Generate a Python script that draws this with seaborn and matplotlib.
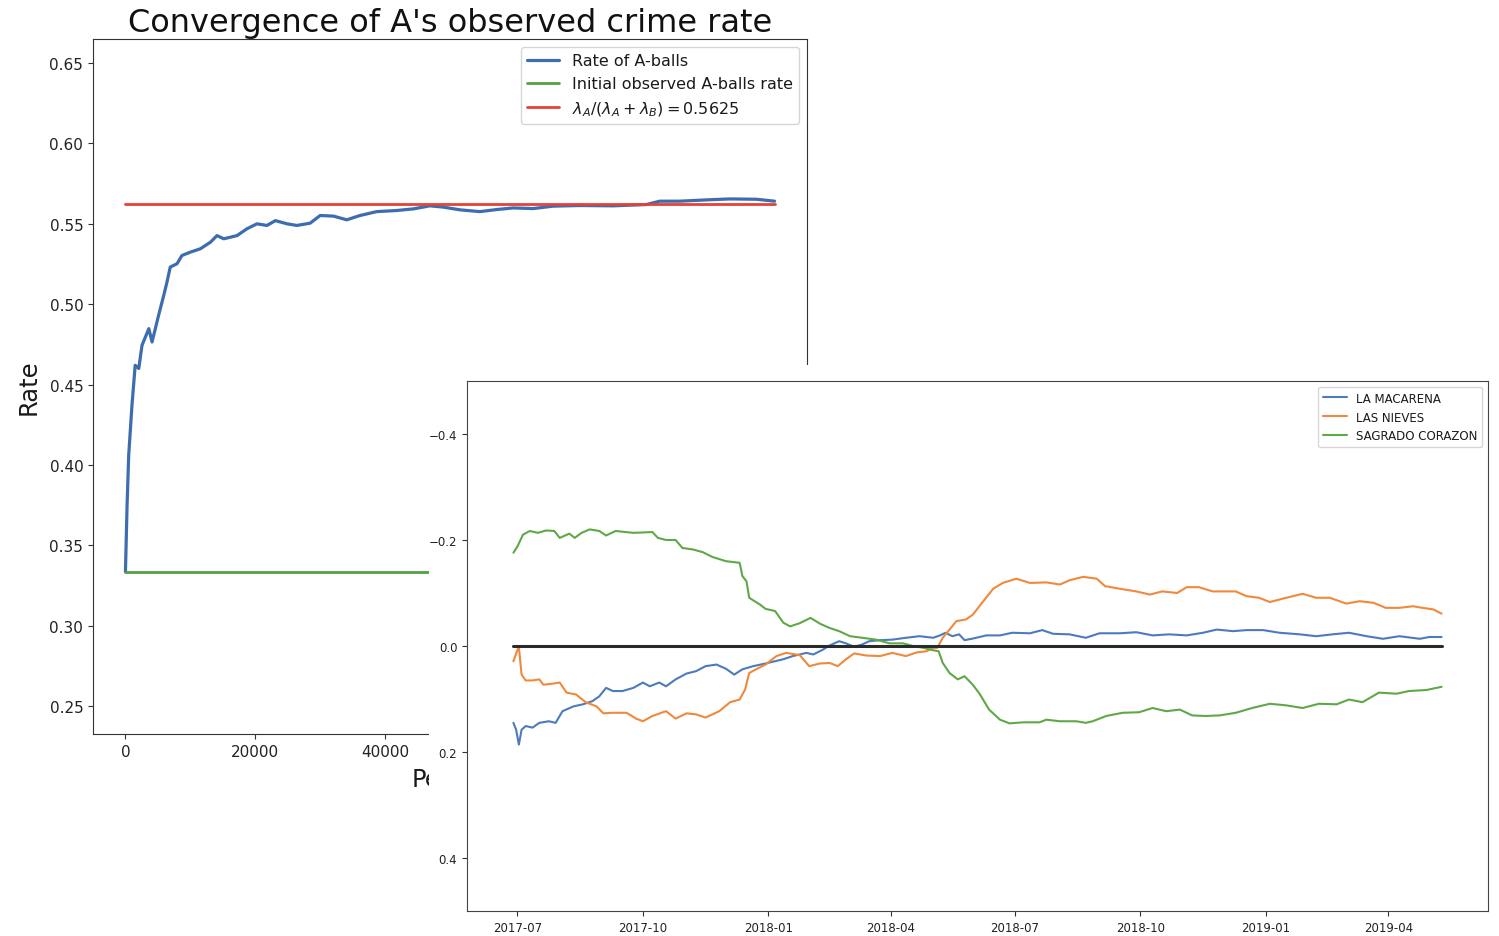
import numpy as np
import pandas as pd
import matplotlib
matplotlib.use("Agg")
import matplotlib.pyplot as plt
import matplotlib.dates as mdates
from matplotlib.patches import Rectangle
import seaborn as sns

# ---------------- Left chart data ----------------
trials = [0, 250, 500, 1000, 1500, 2050, 2550, 3600, 4100, 5100, 5900, 6400, 6900,
          7950, 8700, 10000, 11550, 13100, 14100, 15150, 17200, 18700, 20250, 21800,
          23100, 24900, 26400, 28450, 30000, 32050, 34100, 36150, 38700, 41800, 44350,
          46900, 49000, 51550, 54600, 57200, 59750, 62800, 65900, 70000, 75100, 80250,
          82300, 85400, 89500, 93100, 97200, 100000]
rate_a = [0.3336, 0.375, 0.406, 0.437, 0.462, 0.460, 0.4744, 0.4848, 0.4765, 0.493,
          0.5055, 0.5138, 0.5231, 0.5252, 0.5303, 0.5324, 0.5345, 0.5386, 0.5427,
          0.5407, 0.5427, 0.5469, 0.5500, 0.549, 0.552, 0.550, 0.549, 0.5504, 0.5552,
          0.5548, 0.5525, 0.5552, 0.5576, 0.5583, 0.5593, 0.5612, 0.5604, 0.5587,
          0.5576, 0.5589, 0.5599, 0.5595, 0.5610, 0.5614, 0.5612, 0.5620, 0.5641,
          0.5641, 0.5649, 0.5655, 0.5653, 0.5641]
hline_x = [0, 100000]
initial_rate = 0.3333
theory_rate = 0.5625
left_title = "Convergence of A's observed crime rate"
left_labels = ["Rate of A-balls", "Initial observed A-balls rate",
               r"$\lambda_A/(\lambda_A+\lambda_B) = 0.5625$"]

# ---------------- Right chart data ----------------
start_date = "2017-07-01"
series_names = ["LA MACARENA", "LAS NIEVES", "SAGRADO CORAZON"]

mac_days = [-3, -1, 1, 3, 6, 11, 16, 23, 28, 33, 41, 48, 55, 60, 65, 70, 77, 85, 92, 97,
            104, 109, 116, 124, 131, 138, 146, 153, 159, 165, 173, 182, 195, 202, 212,
            217, 224, 229, 236, 241, 247, 253, 258, 266, 275, 285, 295, 305, 310, 314,
            319, 324, 328, 334, 344, 354, 363, 376, 385, 393, 405, 417, 427, 442, 454,
            466, 478, 491, 503, 513, 525, 535, 547, 559, 574, 586, 598, 610, 623, 635,
            647, 662, 669, 678]
mac_vals = [0.145, 0.158, 0.186, 0.158, 0.151, 0.154, 0.145, 0.142, 0.145, 0.123, 0.114,
            0.110, 0.104, 0.095, 0.079, 0.085, 0.085, 0.079, 0.069, 0.076, 0.069, 0.076,
            0.063, 0.052, 0.0475, 0.038, 0.035, 0.043, 0.054, 0.044, 0.038, 0.033, 0.025,
            0.019, 0.013, 0.016, 0.007, -0.001, -0.009, -0.005, 0.0015, -0.003, -0.009,
            -0.011, -0.012, -0.0155, -0.0185, -0.0155, -0.020, -0.025, -0.0185, -0.022,
            -0.011, -0.014, -0.020, -0.020, -0.025, -0.024, -0.030, -0.023, -0.022,
            -0.0155, -0.024, -0.024, -0.026, -0.020, -0.022, -0.020, -0.025, -0.031,
            -0.028, -0.030, -0.030, -0.025, -0.022, -0.0185, -0.022, -0.025, -0.0185,
            -0.0136, -0.0185, -0.0136, -0.017, -0.017]

nie_days = [-3, 0, 1, 3, 6, 11, 16, 19, 26, 31, 36, 43, 50, 58, 63, 70, 80, 87, 92, 99,
            109, 116, 124, 131, 138, 148, 156, 163, 167, 170, 175, 182, 190, 197, 207,
            214, 222, 229, 235, 241, 247, 256, 266, 275, 285, 293, 300, 305, 308, 312,
            317, 322, 329, 334, 341, 349, 356, 366, 376, 388, 398, 405, 415, 425, 431,
            442, 454, 464, 473, 484, 491, 500, 510, 527, 535, 544, 552, 561, 576, 586,
            596, 608, 618, 628, 637, 647, 657, 664, 672, 678]
nie_vals = [0.029, 0.007, 0.002, 0.054, 0.065, 0.065, 0.063, 0.073, 0.071, 0.069, 0.088,
            0.0915, 0.106, 0.114, 0.127, 0.126, 0.126, 0.137, 0.142, 0.132, 0.123, 0.137,
            0.127, 0.129, 0.135, 0.123, 0.106, 0.101, 0.082, 0.051, 0.044, 0.035, 0.019,
            0.013, 0.017, 0.038, 0.033, 0.032, 0.038, 0.025, 0.014, 0.018, 0.019, 0.013,
            0.019, 0.012, 0.010, 0.0035, 0.0035, -0.0155, -0.031, -0.047, -0.050, -0.059,
            -0.082, -0.108, -0.119, -0.127, -0.119, -0.120, -0.116, -0.124, -0.1305,
            -0.127, -0.113, -0.108, -0.103, -0.097, -0.103, -0.100, -0.111, -0.111,
            -0.103, -0.103, -0.094, -0.091, -0.083, -0.089, -0.0985, -0.091, -0.091,
            -0.080, -0.0845, -0.0815, -0.072, -0.072, -0.075, -0.072, -0.069, -0.061]

sag_days = [-3, 0, 4, 9, 15, 21, 27, 31, 38, 42, 47, 53, 60, 65, 72, 85, 99, 103, 109,
            116, 121, 129, 136, 143, 153, 163, 165, 168, 170, 178, 182, 189, 195, 200,
            207, 215, 222, 229, 236, 244, 253, 263, 273, 283, 290, 297, 305, 309, 312,
            317, 323, 328, 334, 339, 346, 354, 361, 371, 383, 388, 398, 410, 417, 422,
            432, 444, 456, 466, 476, 486, 495, 505, 515, 527, 539, 552, 564, 576, 588,
            601, 610, 620, 632, 645, 654, 667, 678]
sag_vals = [-0.176, -0.188, -0.210, -0.217, -0.2135, -0.218, -0.217, -0.204, -0.212,
            -0.204, -0.2135, -0.220, -0.217, -0.2085, -0.217, -0.2135, -0.215, -0.204,
            -0.200, -0.200, -0.185, -0.182, -0.177, -0.168, -0.160, -0.157, -0.132,
            -0.122, -0.091, -0.078, -0.070, -0.066, -0.044, -0.037, -0.043, -0.053,
            -0.042, -0.034, -0.028, -0.0185, -0.0155, -0.012, -0.005, -0.005, 0.0, 0.003,
            0.008, 0.010, 0.032, 0.051, 0.063, 0.057, 0.073, 0.090, 0.120, 0.139, 0.146,
            0.144, 0.144, 0.139, 0.142, 0.142, 0.145, 0.142, 0.132, 0.126, 0.125, 0.117,
            0.123, 0.120, 0.131, 0.132, 0.131, 0.126, 0.117, 0.109, 0.112, 0.117, 0.109,
            0.110, 0.101, 0.106, 0.088, 0.090, 0.085, 0.083, 0.077]

zero_days = [-3, 678]
zero_vals = [0.0, 0.0]

# ---------------- Figure ----------------
sns.set_style("ticks")
plt.rcParams["font.family"] = ["DejaVu Sans"]
plt.rcParams["text.color"] = "#1a1a1a"
plt.rcParams["axes.labelcolor"] = "#1a1a1a"

W, H = 1499, 937
fig = plt.figure(figsize=(W / 100, H / 100), dpi=100)
fig.patch.set_facecolor("white")

def fig_rect(x0, y0, x1, y1):
    return [x0 / W, 1 - y1 / H, (x1 - x0) / W, (y1 - y0) / H]

# Left chart
ax1 = fig.add_axes(fig_rect(93, 40, 807, 735))
ax1.set_zorder(1)
sns.lineplot(x=trials, y=rate_a, ax=ax1, color="#3d6daf", lw=2.3, label=left_labels[0])
sns.lineplot(x=hline_x, y=[initial_rate] * 2, ax=ax1, color="#55a043", lw=2,
             label=left_labels[1])
sns.lineplot(x=hline_x, y=[theory_rate] * 2, ax=ax1, color="#e5413a", lw=2,
             label=left_labels[2])
ax1.set_xlim(-5000, 105000)
ax1.set_ylim(0.2326, 0.665)
ax1.set_yticks([0.25, 0.30, 0.35, 0.40, 0.45, 0.50, 0.55, 0.60, 0.65])
ax1.set_xticks([0, 20000, 40000, 60000, 80000, 100000])
ax1.tick_params(labelsize=11, colors="#333333", labelcolor="#222222")
ax1.set_title(left_title, fontsize=23, color="#111111")
ax1.set_ylabel("Rate", fontsize=17.5, labelpad=6)
ax1.set_xlabel("Period", fontsize=17.5, labelpad=6)
for s in ax1.spines.values():
    s.set_color("#333333")
    s.set_visible(True)
ax1.legend(handles=ax1.lines[:3], labels=left_labels, loc="upper right", fontsize=11.5)

# White mask of the overlaid screenshot
fig.add_artist(Rectangle((429 / W, 0), 1 - 429 / W, (H - 366) / H,
                         transform=fig.transFigure, facecolor="white",
                         edgecolor="none", zorder=2))

# Right chart
ax2 = fig.add_axes(fig_rect(467, 382, 1488, 912))
ax2.set_zorder(3)
ax2.set_facecolor("white")
base = pd.Timestamp(start_date)
to_dates = lambda d: base + pd.to_timedelta(d, unit="D")
colors = ["#4c7bbd", "#f0893b", "#5fa848"]
for name, days, vals, c in zip(series_names, [mac_days, nie_days, sag_days],
                               [mac_vals, nie_vals, sag_vals], colors):
    sns.lineplot(x=to_dates(days), y=vals, ax=ax2, color=c, lw=1.5, label=name)
sns.lineplot(x=to_dates(zero_days), y=zero_vals, ax=ax2, color="#2a2a2a", lw=2.2)
ax2.set_ylim(0.5, -0.5)
ax2.set_yticks([-0.4, -0.2, 0.0, 0.2, 0.4])
ax2.xaxis.set_major_locator(mdates.MonthLocator(bymonth=[1, 4, 7, 10]))
ax2.xaxis.set_major_formatter(mdates.DateFormatter("%Y-%m"))
ax2.tick_params(labelsize=8.5, colors="#333333", labelcolor="#222222")
ax2.set_xlabel("")
ax2.set_ylabel("")
for s in ax2.spines.values():
    s.set_color("#444444")
    s.set_visible(True)
ax2.legend(handles=ax2.lines[:3], labels=series_names, loc="upper right", fontsize=8.5)

fig.savefig("out.png", dpi=100)
